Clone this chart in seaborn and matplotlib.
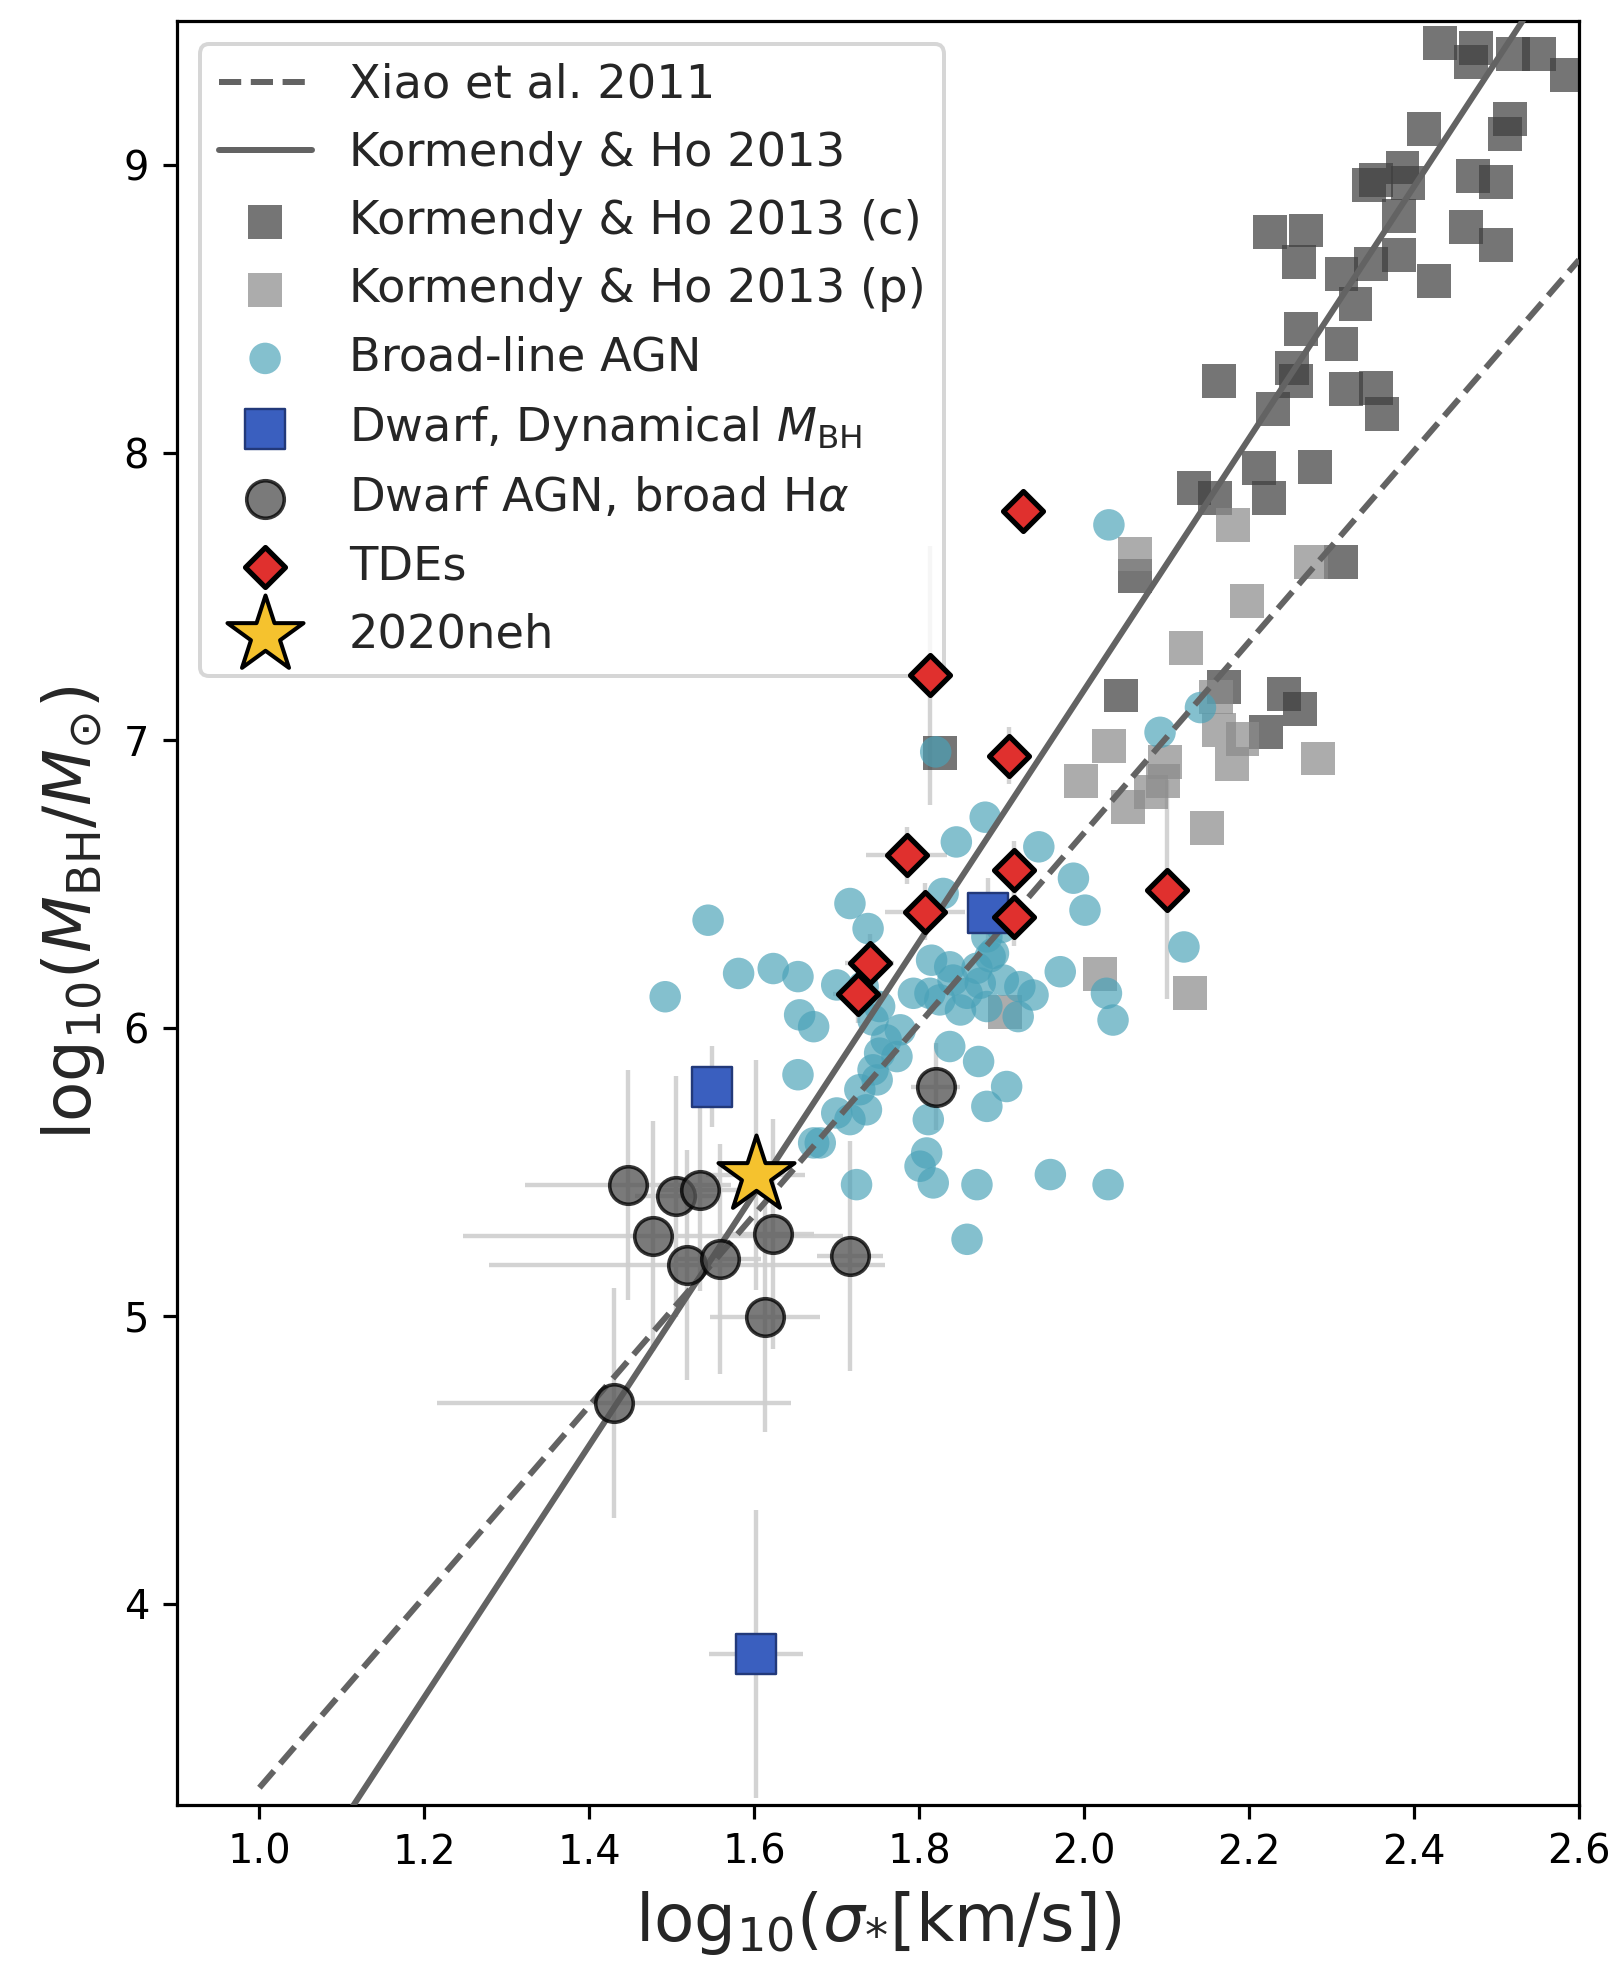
import matplotlib
matplotlib.use("Agg")
import matplotlib.pyplot as plt
import numpy as np
import pandas as pd
import seaborn as sns

# ---------------- data ----------------
# scaling relations (end points of the straight lines)
xiao_sigma = [1.0, 2.6]
xiao_mbh = [3.36, 8.67]
kh_sigma = [1.0, 2.6]
kh_mbh = [2.80, 9.80]

# Kormendy & Ho 2013, classical bulges / ellipticals
khc_sigma = [2.431, 2.475, 2.469, 2.520, 2.552, 2.586, 2.516, 2.510, 2.412, 2.386,
             2.354, 2.393, 2.345, 2.471, 2.499, 2.382, 2.463, 2.499, 2.225, 2.269,
             2.261, 2.312, 2.348, 2.382, 2.424, 2.329, 2.263, 2.312, 2.252, 2.257,
             2.163, 2.318, 2.354, 2.361, 2.229, 2.212, 2.280, 2.133, 2.159, 2.224,
             2.062, 2.311, 2.045, 2.242, 2.262, 2.221, 2.170, 1.825]
khc_mbh = [9.423, 9.405, 9.357, 9.386, 9.386, 9.313, 9.161, 9.107, 9.125, 8.991,
           8.948, 8.936, 8.930, 8.960, 8.942, 8.821, 8.785, 8.723, 8.766, 8.772,
           8.664, 8.620, 8.657, 8.688, 8.596, 8.516, 8.431, 8.377, 8.293, 8.249,
           8.249, 8.220, 8.224, 8.133, 8.152, 7.945, 7.951, 7.878, 7.842, 7.842,
           7.570, 7.620, 7.156, 7.162, 7.108, 7.028, 7.186, 6.955]

# Kormendy & Ho 2013, pseudobulges
khp_sigma = [2.062, 2.275, 2.180, 2.198, 2.124, 2.164, 2.192, 2.179, 2.283, 2.030,
             1.996, 2.098, 2.096, 2.081, 2.053, 2.149, 2.128, 2.019, 1.904, 2.160]
khp_mbh = [7.649, 7.620, 7.750, 7.485, 7.320, 7.035, 7.004, 6.919, 6.937, 6.980,
           6.858, 6.925, 6.858, 6.822, 6.767, 6.694, 6.122, 6.189, 6.056, 7.150]

# broad-line AGN
agn_sigma = [2.030, 2.092, 2.141, 1.820, 1.880, 1.845, 1.945, 1.987, 2.001, 1.716,
             1.738, 1.829, 1.544, 1.492, 1.581, 1.623, 1.653, 1.700, 1.655, 1.672,
             1.815, 1.793, 1.841, 1.870, 1.890, 1.902, 1.938, 1.882, 1.850, 1.971,
             2.027, 2.035, 2.121, 1.744, 1.773, 1.837, 1.872, 1.906, 1.882, 1.811,
             1.749, 1.736, 1.716, 1.653, 1.672, 1.809, 1.817, 1.724, 1.870, 1.959,
             2.029, 1.858, 1.752, 1.777, 1.813, 1.882, 1.886, 1.874, 1.922, 1.837,
             1.825, 1.858, 1.732, 1.752, 1.760, 1.744, 1.728, 1.700, 1.680, 1.801,
             1.920, 1.900]
agn_mbh = [7.749, 7.028, 7.114, 6.960, 6.733, 6.647, 6.630, 6.521, 6.410, 6.433,
           6.346, 6.468, 6.375, 6.109, 6.190, 6.207, 6.179, 6.150, 6.046, 6.005,
           6.236, 6.121, 6.167, 6.208, 6.260, 6.167, 6.115, 6.075, 6.063, 6.196,
           6.121, 6.028, 6.282, 6.028, 5.901, 5.936, 5.884, 5.797, 5.728, 5.682,
           5.820, 5.716, 5.682, 5.838, 5.601, 5.566, 5.462, 5.456, 5.456, 5.491,
           5.456, 5.266, 5.913, 5.994, 6.121, 6.317, 6.248, 6.156, 6.144, 6.213,
           6.098, 6.121, 6.144, 6.075, 5.959, 5.855, 5.786, 5.705, 5.601, 5.520,
           6.040, 6.350]

# dwarf galaxies with dynamical black-hole masses
dyn_sigma = [1.883, 1.549, 1.602]
dyn_mbh = [6.40, 5.797, 3.824]
dyn_sigma_err = [0.02, 0.0, 0.057]
dyn_mbh_err = [0.12, 0.14, 0.50]

# dwarf AGN with broad H-alpha
dwarf_sigma = [1.447, 1.505, 1.534, 1.477, 1.518, 1.558, 1.623, 1.716, 1.613, 1.430, 1.820]
dwarf_mbh = [5.456, 5.415, 5.436, 5.277, 5.177, 5.198, 5.284, 5.207, 4.995, 4.697, 5.797]
dwarf_sigma_err = [0.125, 0.05, 0.05, 0.23, 0.24, 0.05, 0.05, 0.04, 0.067, 0.215, 0.03]
dwarf_mbh_err = [0.40, 0.42, 0.35, 0.40, 0.40, 0.40, 0.40, 0.40, 0.40, 0.40, 0.15]

# tidal disruption events
tde_sigma = [1.926, 1.813, 1.909, 1.785, 1.915, 1.807, 1.915, 1.740, 1.726, 2.100]
tde_mbh = [7.798, 7.226, 6.947, 6.600, 6.551, 6.405, 6.387, 6.228, 6.119, 6.481]
tde_sigma_err = [0.02, 0.02, 0.02, 0.049, 0.02, 0.048, 0.02, 0.03, 0.03, 0.02]
tde_mbh_err = [0.05, 0.45, 0.10, 0.10, 0.10, 0.10, 0.10, 0.10, 0.10, 0.38]

# AT 2020neh
neh_sigma = [1.602]
neh_mbh = [5.49]
neh_sigma_err = [0.06]
neh_mbh_err = [0.40]

# ---------------- style ----------------
sns.set_style("ticks")
plt.rcParams["font.family"] = ["DejaVu Sans"]
plt.rcParams.update({
    "axes.linewidth": 0.8,
    "xtick.major.size": 3.5, "ytick.major.size": 3.5,
    "xtick.major.width": 0.8, "ytick.major.width": 0.8,
    "xtick.labelsize": 10, "ytick.labelsize": 10,
    "xtick.color": "black", "ytick.color": "black",
    "axes.edgecolor": "black",
    "mathtext.fontset": "dejavusans",
})

DPI = 288
fig = plt.figure(figsize=(1619 / DPI, 1966 / DPI), dpi=DPI)
ax = fig.add_axes([0.1093, 0.0819, 0.8660, 0.9074])

err_kw = dict(fmt="none", ecolor="#cfcfcf", elinewidth=1.1, alpha=0.9, zorder=1)
ax.errorbar(dwarf_sigma, dwarf_mbh, xerr=dwarf_sigma_err, yerr=dwarf_mbh_err, **err_kw)
ax.errorbar(tde_sigma, tde_mbh, xerr=tde_sigma_err, yerr=tde_mbh_err, **err_kw)
ax.errorbar(dyn_sigma, dyn_mbh, xerr=dyn_sigma_err, yerr=dyn_mbh_err, **err_kw)
ax.errorbar(neh_sigma, neh_mbh, xerr=neh_sigma_err, yerr=neh_mbh_err, **err_kw)

sns.lineplot(x=xiao_sigma, y=xiao_mbh, ax=ax, color="#636363", linestyle="--",
             linewidth=1.5, label="Xiao et al. 2011", zorder=4)
sns.lineplot(x=kh_sigma, y=kh_mbh, ax=ax, color="#636363", linestyle="-",
             linewidth=1.5, label="Kormendy & Ho 2013", zorder=4)

sns.scatterplot(x=khc_sigma, y=khc_mbh, ax=ax, marker="s", s=72, color="#404040",
                alpha=0.72, edgecolor="none", linewidth=0,
                label="Kormendy & Ho 2013 (c)", zorder=2)
sns.scatterplot(x=khp_sigma, y=khp_mbh, ax=ax, marker="s", s=72, color="#8c8c8c",
                alpha=0.72, edgecolor="none", linewidth=0,
                label="Kormendy & Ho 2013 (p)", zorder=2)
sns.scatterplot(x=agn_sigma, y=agn_mbh, ax=ax, marker="o", s=62, color="#4aa2b8",
                alpha=0.68, edgecolor="none", linewidth=0,
                label="Broad-line AGN", zorder=3)
sns.scatterplot(x=dyn_sigma, y=dyn_mbh, ax=ax, marker="s", s=100, color="#3a5fbf",
                edgecolor="#22397a", linewidth=0.6,
                label=r"Dwarf, Dynamical $M_{\rm BH}$", zorder=5)
sns.scatterplot(x=dwarf_sigma, y=dwarf_mbh, ax=ax, marker="o", s=88, color="#555555",
                alpha=0.78, edgecolor="black", linewidth=0.9,
                label=r"Dwarf AGN, broad H$\alpha$", zorder=5)
sns.scatterplot(x=tde_sigma, y=tde_mbh, ax=ax, marker="D", s=50, color="#e0302e",
                edgecolor="black", linewidth=1.3, label="TDEs", zorder=6)
sns.scatterplot(x=neh_sigma, y=neh_mbh, ax=ax, marker="*", s=400, color="#f5c22e",
                edgecolor="black", linewidth=1.0, label="2020neh", zorder=7)

ax.set_xlim(0.9, 2.6)
ax.set_ylim(3.3, 9.5)
ax.set_xticks(np.arange(1.0, 2.61, 0.2))
ax.set_yticks([4, 5, 6, 7, 8, 9])
ax.set_xlabel(r"$\mathrm{log}_{10}(\sigma_{*}[{\rm km/s}])$", fontsize=16.5)
ax.set_ylabel(r"$\mathrm{log}_{10}(M_{\rm BH}/M_{\odot})$", fontsize=16.5)

order = ["Xiao et al. 2011", "Kormendy & Ho 2013", "Kormendy & Ho 2013 (c)",
         "Kormendy & Ho 2013 (p)", "Broad-line AGN", r"Dwarf, Dynamical $M_{\rm BH}$",
         r"Dwarf AGN, broad H$\alpha$", "TDEs", "2020neh"]
handles, labels = ax.get_legend_handles_labels()
lookup = dict(zip(labels, handles))
ax.legend([lookup[k] for k in order], order, loc="upper left", fontsize=11.6,
          labelspacing=0.5, frameon=True)

fig.savefig("out.png", dpi=DPI)
